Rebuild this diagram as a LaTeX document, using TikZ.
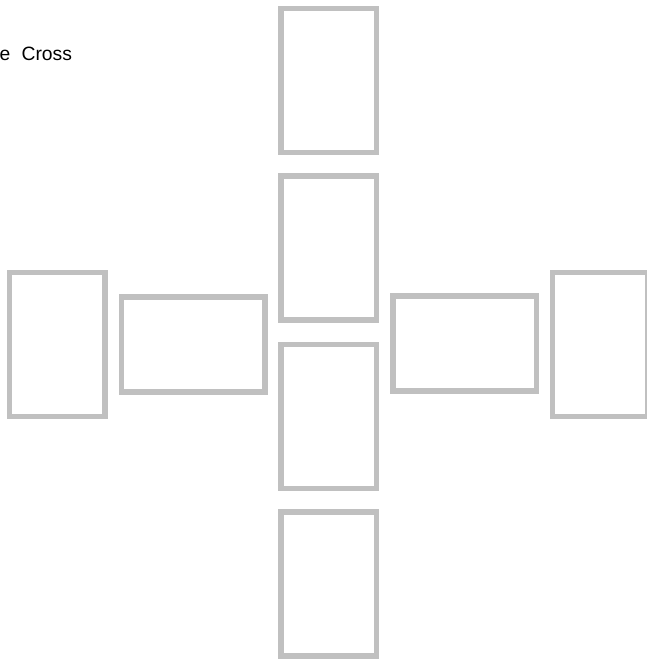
\documentclass[tikz,border=0pt]{standalone}
\usepackage{fontspec}
\setmainfont{Liberation Sans}
\definecolor{cardgray}{HTML}{C0C0C0}
\begin{document}
\begin{tikzpicture}[x=1pt,y=-1pt,
  card/.style={draw=cardgray,line width=5.5pt,fill=white,inner sep=0pt,
    minimum width=95.5pt,minimum height=144pt},
  cardh/.style={card,minimum width=143.5pt,minimum height=95pt},
  titletext/.style={inner sep=0pt,font=\fontsize{19.3pt}{23pt}\selectfont}]
\useasboundingbox (0,0) rectangle (647,661);
\node[titletext,anchor=base west] (title) at (-0.5,61) {e\hspace{11.2pt}Cross};
\node[card] (v1) at (328.75,80.4) {};
\node[card] (v2) at (328.75,248.2) {};
\node[card] (v3) at (328.75,416.3) {};
\node[card] (v4) at (328.75,584.2) {};
\node[card] (l) at (57,344.6) {};
\node[cardh] (lm) at (193.4,344.4) {};
\node[cardh] (rm) at (464.8,343.5) {};
\node[card] (r) at (600.3,344.6) {};
\end{tikzpicture}
\end{document}
